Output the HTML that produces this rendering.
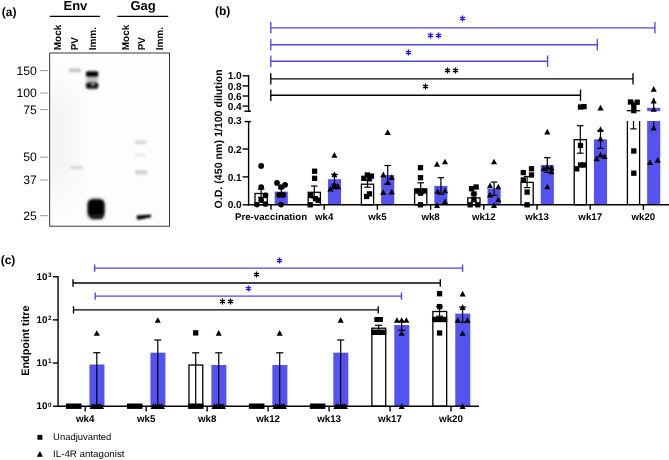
<!DOCTYPE html>
<html><head><meta charset="utf-8"><title>Figure</title>
<style>html,body{margin:0;padding:0;background:#fff;}svg{display:block;will-change:transform;}text{font-family:"Liberation Sans",sans-serif;text-rendering:geometricPrecision;}</style></head>
<body>
<svg width="669" height="460" viewBox="0 0 669 460">
<rect width="669" height="460" fill="#fff"/>
<text x="1.80" y="15.50" font-size="12" font-weight="bold" text-anchor="start" fill="#000" >(a)</text>
<text x="75.40" y="10.10" font-size="13" font-weight="bold" text-anchor="middle" fill="#000" >Env</text>
<text x="143.10" y="10.10" font-size="13" font-weight="bold" text-anchor="middle" fill="#000" >Gag</text>
<path d="M49.80 16.40L100.00 16.40" stroke="#000" stroke-width="1.3" fill="none"/>
<path d="M117.40 16.40L168.30 16.40" stroke="#000" stroke-width="1.3" fill="none"/>
<text transform="translate(61.3,50.3) rotate(-90)" font-size="10" font-weight="bold" text-anchor="start">Mock</text>
<text transform="translate(78.3,50.3) rotate(-90)" font-size="10" font-weight="bold" text-anchor="start">PV</text>
<text transform="translate(95.7,50.3) rotate(-90)" font-size="10" font-weight="bold" text-anchor="start">Imm.</text>
<text transform="translate(128.8,50.3) rotate(-90)" font-size="10" font-weight="bold" text-anchor="start">Mock</text>
<text transform="translate(145.2,50.3) rotate(-90)" font-size="10" font-weight="bold" text-anchor="start">PV</text>
<text transform="translate(163.2,50.3) rotate(-90)" font-size="10" font-weight="bold" text-anchor="start">Imm.</text>
<defs><filter id="b1" x="-50%" y="-50%" width="200%" height="200%"><feGaussianBlur stdDeviation="0.9"/></filter><filter id="b5" x="-50%" y="-80%" width="200%" height="260%"><feGaussianBlur stdDeviation="1.2"/></filter><filter id="b2" x="-50%" y="-50%" width="200%" height="200%"><feGaussianBlur stdDeviation="1.6"/></filter><filter id="b4" x="-50%" y="-50%" width="200%" height="200%"><feGaussianBlur stdDeviation="0.7"/></filter><filter id="b3" x="-50%" y="-50%" width="200%" height="200%"><feGaussianBlur stdDeviation="12"/></filter><clipPath id="blotclip"><rect x="49.7" y="53" width="119.8" height="173.2"/></clipPath></defs>
<g clip-path="url(#blotclip)">
<rect x="49.7" y="53" width="119.8" height="173.2" fill="#fdfdfd"/>
<ellipse cx="60" cy="140" rx="14" ry="60" fill="#f2f2f2" filter="url(#b3)"/>
<rect x="68.8" y="68.3" width="12.2" height="4" rx="1.5" fill="#c8c8c8" filter="url(#b1)"/>
<rect x="86.5" y="71" width="11.5" height="18" rx="2" fill="#c0c0c0" filter="url(#b2)"/>
<rect x="86.0" y="71.5" width="12.2" height="5.0" rx="1.5" fill="#000" filter="url(#b1)"/>
<rect x="86.0" y="82.8" width="12.2" height="5.8" rx="2" fill="#0a0a0a" filter="url(#b1)"/>
<ellipse cx="93.0" cy="84.4" rx="2.4" ry="1.0" fill="#ccc" filter="url(#b1)" transform="rotate(-20 93 84.4)"/>
<rect x="70.5" y="166.0" width="12.5" height="3.2" rx="1.2" fill="#d6d6d6" filter="url(#b5)"/>
<rect x="87.0" y="198.2" width="18" height="21.5" rx="6" fill="#8a8a8a" filter="url(#b2)"/>
<rect x="88.0" y="199.4" width="16.2" height="17.8" rx="5" fill="#000" filter="url(#b1)"/>
<rect x="90.5" y="214" width="12.5" height="4.6" rx="2" fill="#1c1c1c" filter="url(#b1)"/>
<rect x="134.5" y="140.4" width="12.5" height="3.8" rx="1.2" fill="#d8d8d8" filter="url(#b5)" transform="rotate(-4 140 142)"/>
<rect x="134.5" y="153.4" width="11.5" height="3.2" rx="1.2" fill="#ececec" filter="url(#b5)"/>
<rect x="135" y="169.9" width="12.5" height="4.8" rx="1.5" fill="#d4d4d4" filter="url(#b5)"/>
<path d="M136.8 215.4L150.8 214.6L151.2 217.2L138.6 219.8Q136.2 219.8 136.8 215.4Z" fill="#000" filter="url(#b1)"/>
</g>
<rect x="49.7" y="53" width="119.8" height="173.2" fill="none" stroke="#222" stroke-width="0.9"/>
<text x="36.80" y="74.60" font-size="12.2" font-weight="normal" text-anchor="end" fill="#000" >150</text>
<path d="M40.00 70.60L48.00 70.60" stroke="#999" stroke-width="1.0" fill="none"/>
<text x="36.80" y="97.00" font-size="12.2" font-weight="normal" text-anchor="end" fill="#000" >100</text>
<path d="M40.00 93.00L48.00 93.00" stroke="#999" stroke-width="1.0" fill="none"/>
<text x="36.80" y="113.70" font-size="12.2" font-weight="normal" text-anchor="end" fill="#000" >75</text>
<path d="M40.00 109.70L48.00 109.70" stroke="#999" stroke-width="1.0" fill="none"/>
<text x="36.80" y="161.20" font-size="12.2" font-weight="normal" text-anchor="end" fill="#000" >50</text>
<path d="M40.00 157.20L48.00 157.20" stroke="#999" stroke-width="1.0" fill="none"/>
<text x="36.80" y="184.00" font-size="12.2" font-weight="normal" text-anchor="end" fill="#000" >37</text>
<path d="M40.00 180.00L48.00 180.00" stroke="#999" stroke-width="1.0" fill="none"/>
<text x="36.80" y="219.70" font-size="12.2" font-weight="normal" text-anchor="end" fill="#000" >25</text>
<path d="M40.00 215.70L48.00 215.70" stroke="#999" stroke-width="1.0" fill="none"/>
<text x="215.00" y="14.70" font-size="12" font-weight="bold" text-anchor="start" fill="#000" >(b)</text>
<path d="M248.60 205.50L248.60 121.00" stroke="#000" stroke-width="1.4" fill="none"/>
<path d="M244.60 121.60L251.20 121.60" stroke="#000" stroke-width="1.4" fill="none"/>
<path d="M242.60 204.80L248.60 204.80" stroke="#000" stroke-width="1.4" fill="none"/>
<text x="241.70" y="208.40" font-size="10.1" font-weight="bold" text-anchor="end" fill="#000" >0.0</text>
<path d="M242.60 176.90L248.60 176.90" stroke="#000" stroke-width="1.4" fill="none"/>
<text x="241.70" y="180.50" font-size="10.1" font-weight="bold" text-anchor="end" fill="#000" >0.1</text>
<path d="M242.60 149.00L248.60 149.00" stroke="#000" stroke-width="1.4" fill="none"/>
<text x="241.70" y="152.60" font-size="10.1" font-weight="bold" text-anchor="end" fill="#000" >0.2</text>
<text x="241.70" y="124.30" font-size="10.1" font-weight="bold" text-anchor="end" fill="#000" >0.3</text>
<path d="M248.60 111.80L248.60 75.10" stroke="#000" stroke-width="1.4" fill="none"/>
<path d="M244.40 111.20L251.00 111.20" stroke="#000" stroke-width="1.4" fill="none"/>
<path d="M242.60 106.10L248.60 106.10" stroke="#000" stroke-width="1.4" fill="none"/>
<text x="241.70" y="109.70" font-size="10.1" font-weight="bold" text-anchor="end" fill="#000" >0.4</text>
<path d="M242.60 96.00L248.60 96.00" stroke="#000" stroke-width="1.4" fill="none"/>
<text x="241.70" y="99.60" font-size="10.1" font-weight="bold" text-anchor="end" fill="#000" >0.6</text>
<path d="M242.60 85.90L248.60 85.90" stroke="#000" stroke-width="1.4" fill="none"/>
<text x="241.70" y="89.50" font-size="10.1" font-weight="bold" text-anchor="end" fill="#000" >0.8</text>
<path d="M242.60 75.80L248.60 75.80" stroke="#000" stroke-width="1.4" fill="none"/>
<text x="241.70" y="79.40" font-size="10.1" font-weight="bold" text-anchor="end" fill="#000" >1.0</text>
<text transform="translate(221.7,138.85) rotate(-90)" font-size="10.64" font-weight="bold" text-anchor="middle">O.D. (450 nm) 1/100 dilution</text>
<rect x="255.00" y="193.50" width="12.2" height="11.30" fill="#fff" stroke="#000" stroke-width="1.3"/>
<rect x="274.75" y="191.60" width="13.1" height="13.20" fill="#5553f0"/>
<path d="M261.10 189.20L261.10 197.40" stroke="#000" stroke-width="1.2" fill="none"/>
<path d="M257.80 189.20L264.40 189.20" stroke="#000" stroke-width="1.2" fill="none"/>
<path d="M257.80 197.40L264.40 197.40" stroke="#000" stroke-width="1.2" fill="none"/>
<path d="M281.30 188.50L281.30 195.20" stroke="#000" stroke-width="1.2" fill="none"/>
<path d="M278.00 188.50L284.60 188.50" stroke="#000" stroke-width="1.2" fill="none"/>
<path d="M278.00 195.20L284.60 195.20" stroke="#000" stroke-width="1.2" fill="none"/>
<circle cx="261.20" cy="165.90" r="2.85" fill="#000"/>
<circle cx="261.20" cy="187.00" r="2.85" fill="#000"/>
<circle cx="265.50" cy="195.30" r="2.85" fill="#000"/>
<circle cx="261.20" cy="200.20" r="2.85" fill="#000"/>
<circle cx="256.80" cy="204.60" r="2.85" fill="#000"/>
<circle cx="265.50" cy="204.00" r="2.85" fill="#000"/>
<circle cx="277.00" cy="182.90" r="2.85" fill="#000"/>
<circle cx="285.10" cy="184.80" r="2.85" fill="#000"/>
<circle cx="281.00" cy="187.00" r="2.85" fill="#000"/>
<circle cx="279.10" cy="194.90" r="2.85" fill="#000"/>
<circle cx="283.20" cy="194.90" r="2.85" fill="#000"/>
<circle cx="281.00" cy="204.60" r="2.85" fill="#000"/>
<rect x="308.20" y="192.30" width="12.2" height="12.50" fill="#fff" stroke="#000" stroke-width="1.3"/>
<rect x="327.95" y="179.20" width="13.1" height="25.60" fill="#5553f0"/>
<path d="M314.30 186.00L314.30 198.00" stroke="#000" stroke-width="1.2" fill="none"/>
<path d="M311.00 186.00L317.60 186.00" stroke="#000" stroke-width="1.2" fill="none"/>
<path d="M311.00 198.00L317.60 198.00" stroke="#000" stroke-width="1.2" fill="none"/>
<path d="M334.50 174.30L334.50 184.30" stroke="#000" stroke-width="1.2" fill="none"/>
<path d="M331.20 174.30L337.80 174.30" stroke="#000" stroke-width="1.2" fill="none"/>
<path d="M331.20 184.30L337.80 184.30" stroke="#000" stroke-width="1.2" fill="none"/>
<rect x="311.95" y="168.55" width="5.3" height="5.3" fill="#000"/>
<rect x="311.95" y="175.65" width="5.3" height="5.3" fill="#000"/>
<rect x="308.05" y="192.75" width="5.3" height="5.3" fill="#000"/>
<rect x="312.85" y="196.05" width="5.3" height="5.3" fill="#000"/>
<rect x="315.55" y="197.65" width="5.3" height="5.3" fill="#000"/>
<rect x="307.55" y="202.15" width="5.3" height="5.3" fill="#000"/>
<path d="M334.40 151.95L337.45 157.65L331.35 157.65Z" fill="#000"/>
<path d="M334.40 171.45L337.45 177.15L331.35 177.15Z" fill="#000"/>
<path d="M330.40 185.85L333.45 191.55L327.35 191.55Z" fill="#000"/>
<path d="M334.40 183.65L337.45 189.35L331.35 189.35Z" fill="#000"/>
<path d="M338.20 183.65L341.25 189.35L335.15 189.35Z" fill="#000"/>
<path d="M334.40 181.65L337.45 187.35L331.35 187.35Z" fill="#000"/>
<rect x="361.40" y="184.20" width="12.2" height="20.60" fill="#fff" stroke="#000" stroke-width="1.3"/>
<rect x="381.15" y="175.00" width="13.1" height="29.80" fill="#5553f0"/>
<path d="M367.50 180.50L367.50 187.20" stroke="#000" stroke-width="1.2" fill="none"/>
<path d="M364.20 180.50L370.80 180.50" stroke="#000" stroke-width="1.2" fill="none"/>
<path d="M364.20 187.20L370.80 187.20" stroke="#000" stroke-width="1.2" fill="none"/>
<path d="M387.70 165.50L387.70 184.30" stroke="#000" stroke-width="1.2" fill="none"/>
<path d="M384.40 165.50L391.00 165.50" stroke="#000" stroke-width="1.2" fill="none"/>
<path d="M384.40 184.30L391.00 184.30" stroke="#000" stroke-width="1.2" fill="none"/>
<rect x="364.65" y="172.35" width="5.3" height="5.3" fill="#000"/>
<rect x="368.85" y="173.45" width="5.3" height="5.3" fill="#000"/>
<rect x="361.15" y="175.65" width="5.3" height="5.3" fill="#000"/>
<rect x="366.85" y="176.15" width="5.3" height="5.3" fill="#000"/>
<rect x="366.85" y="191.25" width="5.3" height="5.3" fill="#000"/>
<rect x="363.95" y="193.85" width="5.3" height="5.3" fill="#000"/>
<path d="M387.70 129.35L390.75 135.05L384.65 135.05Z" fill="#000"/>
<path d="M383.30 171.45L386.35 177.15L380.25 177.15Z" fill="#000"/>
<path d="M391.70 174.35L394.75 180.05L388.65 180.05Z" fill="#000"/>
<path d="M387.70 179.25L390.75 184.95L384.65 184.95Z" fill="#000"/>
<path d="M383.30 189.25L386.35 194.95L380.25 194.95Z" fill="#000"/>
<path d="M391.70 188.75L394.75 194.45L388.65 194.45Z" fill="#000"/>
<rect x="414.60" y="189.10" width="12.2" height="15.70" fill="#fff" stroke="#000" stroke-width="1.3"/>
<rect x="434.35" y="185.90" width="13.1" height="18.90" fill="#5553f0"/>
<path d="M420.70 182.80L420.70 193.60" stroke="#000" stroke-width="1.2" fill="none"/>
<path d="M417.40 182.80L424.00 182.80" stroke="#000" stroke-width="1.2" fill="none"/>
<path d="M417.40 193.60L424.00 193.60" stroke="#000" stroke-width="1.2" fill="none"/>
<path d="M440.90 177.70L440.90 194.30" stroke="#000" stroke-width="1.2" fill="none"/>
<path d="M437.60 177.70L444.20 177.70" stroke="#000" stroke-width="1.2" fill="none"/>
<path d="M437.60 194.30L444.20 194.30" stroke="#000" stroke-width="1.2" fill="none"/>
<rect x="417.85" y="165.05" width="5.3" height="5.3" fill="#000"/>
<rect x="417.85" y="175.05" width="5.3" height="5.3" fill="#000"/>
<rect x="415.05" y="188.35" width="5.3" height="5.3" fill="#000"/>
<rect x="421.65" y="188.35" width="5.3" height="5.3" fill="#000"/>
<rect x="417.85" y="190.55" width="5.3" height="5.3" fill="#000"/>
<rect x="417.85" y="202.15" width="5.3" height="5.3" fill="#000"/>
<path d="M437.00 161.05L440.05 166.75L433.95 166.75Z" fill="#000"/>
<path d="M445.00 158.65L448.05 164.35L441.95 164.35Z" fill="#000"/>
<path d="M437.60 188.15L440.65 193.85L434.55 193.85Z" fill="#000"/>
<path d="M445.00 187.65L448.05 193.35L441.95 193.35Z" fill="#000"/>
<path d="M445.00 198.55L448.05 204.25L441.95 204.25Z" fill="#000"/>
<path d="M437.00 202.35L440.05 208.05L433.95 208.05Z" fill="#000"/>
<rect x="467.80" y="197.90" width="12.2" height="6.90" fill="#fff" stroke="#000" stroke-width="1.3"/>
<rect x="487.55" y="188.70" width="13.1" height="16.10" fill="#5553f0"/>
<path d="M473.90 193.90L473.90 201.20" stroke="#000" stroke-width="1.2" fill="none"/>
<path d="M470.60 193.90L477.20 193.90" stroke="#000" stroke-width="1.2" fill="none"/>
<path d="M470.60 201.20L477.20 201.20" stroke="#000" stroke-width="1.2" fill="none"/>
<path d="M494.10 182.10L494.10 195.40" stroke="#000" stroke-width="1.2" fill="none"/>
<path d="M490.80 182.10L497.40 182.10" stroke="#000" stroke-width="1.2" fill="none"/>
<path d="M490.80 195.40L497.40 195.40" stroke="#000" stroke-width="1.2" fill="none"/>
<rect x="468.95" y="186.05" width="5.3" height="5.3" fill="#000"/>
<rect x="473.45" y="184.35" width="5.3" height="5.3" fill="#000"/>
<rect x="471.25" y="191.25" width="5.3" height="5.3" fill="#000"/>
<rect x="471.25" y="197.15" width="5.3" height="5.3" fill="#000"/>
<rect x="467.45" y="202.15" width="5.3" height="5.3" fill="#000"/>
<rect x="475.15" y="202.15" width="5.3" height="5.3" fill="#000"/>
<path d="M494.00 158.65L497.05 164.35L490.95 164.35Z" fill="#000"/>
<path d="M490.00 182.55L493.05 188.25L486.95 188.25Z" fill="#000"/>
<path d="M498.30 183.65L501.35 189.35L495.25 189.35Z" fill="#000"/>
<path d="M490.00 191.85L493.05 197.55L486.95 197.55Z" fill="#000"/>
<path d="M498.30 196.55L501.35 202.25L495.25 202.25Z" fill="#000"/>
<path d="M494.00 202.35L497.05 208.05L490.95 208.05Z" fill="#000"/>
<rect x="521.00" y="182.40" width="12.2" height="22.40" fill="#fff" stroke="#000" stroke-width="1.3"/>
<rect x="540.75" y="165.00" width="13.1" height="39.80" fill="#5553f0"/>
<path d="M527.10 176.50L527.10 187.60" stroke="#000" stroke-width="1.2" fill="none"/>
<path d="M523.80 176.50L530.40 176.50" stroke="#000" stroke-width="1.2" fill="none"/>
<path d="M523.80 187.60L530.40 187.60" stroke="#000" stroke-width="1.2" fill="none"/>
<path d="M547.30 157.70L547.30 172.40" stroke="#000" stroke-width="1.2" fill="none"/>
<path d="M544.00 157.70L550.60 157.70" stroke="#000" stroke-width="1.2" fill="none"/>
<path d="M544.00 172.40L550.60 172.40" stroke="#000" stroke-width="1.2" fill="none"/>
<rect x="528.85" y="166.15" width="5.3" height="5.3" fill="#000"/>
<rect x="520.65" y="169.95" width="5.3" height="5.3" fill="#000"/>
<rect x="528.85" y="172.35" width="5.3" height="5.3" fill="#000"/>
<rect x="520.65" y="177.25" width="5.3" height="5.3" fill="#000"/>
<rect x="524.45" y="189.45" width="5.3" height="5.3" fill="#000"/>
<rect x="524.45" y="202.15" width="5.3" height="5.3" fill="#000"/>
<path d="M547.30 128.85L550.35 134.55L544.25 134.55Z" fill="#000"/>
<path d="M543.70 165.45L546.75 171.15L540.65 171.15Z" fill="#000"/>
<path d="M547.30 163.75L550.35 169.45L544.25 169.45Z" fill="#000"/>
<path d="M551.50 164.85L554.55 170.55L548.45 170.55Z" fill="#000"/>
<path d="M551.50 168.55L554.55 174.25L548.45 174.25Z" fill="#000"/>
<path d="M547.30 183.65L550.35 189.35L544.25 189.35Z" fill="#000"/>
<rect x="574.20" y="139.70" width="12.2" height="65.10" fill="#fff" stroke="#000" stroke-width="1.3"/>
<rect x="593.95" y="139.40" width="13.1" height="65.40" fill="#5553f0"/>
<path d="M580.30 125.70L580.30 153.20" stroke="#000" stroke-width="1.2" fill="none"/>
<path d="M577.00 125.70L583.60 125.70" stroke="#000" stroke-width="1.2" fill="none"/>
<path d="M577.00 153.20L583.60 153.20" stroke="#000" stroke-width="1.2" fill="none"/>
<path d="M600.50 130.50L600.50 148.40" stroke="#000" stroke-width="1.2" fill="none"/>
<path d="M597.20 130.50L603.80 130.50" stroke="#000" stroke-width="1.2" fill="none"/>
<path d="M597.20 148.40L603.80 148.40" stroke="#000" stroke-width="1.2" fill="none"/>
<rect x="577.85" y="104.35" width="5.3" height="5.3" fill="#000"/>
<rect x="581.35" y="103.95" width="5.3" height="5.3" fill="#000"/>
<rect x="577.85" y="142.85" width="5.3" height="5.3" fill="#000"/>
<rect x="577.85" y="162.35" width="5.3" height="5.3" fill="#000"/>
<rect x="581.35" y="162.35" width="5.3" height="5.3" fill="#000"/>
<rect x="574.05" y="166.15" width="5.3" height="5.3" fill="#000"/>
<path d="M600.50 104.85L603.55 110.55L597.45 110.55Z" fill="#000"/>
<path d="M600.50 126.25L603.55 131.95L597.45 131.95Z" fill="#000"/>
<path d="M600.50 135.65L603.55 141.35L597.45 141.35Z" fill="#000"/>
<path d="M600.50 151.75L603.55 157.45L597.45 157.45Z" fill="#000"/>
<path d="M604.50 153.35L607.55 159.05L601.45 159.05Z" fill="#000"/>
<path d="M596.70 155.55L599.75 161.25L593.65 161.25Z" fill="#000"/>
<path d="M627.40 121.00L627.40 204.80" stroke="#000" stroke-width="1.3" fill="none"/>
<path d="M639.60 121.00L639.60 204.80" stroke="#000" stroke-width="1.3" fill="none"/>
<rect x="647.15" y="121" width="13.1" height="83.80" fill="#5553f0"/>
<path d="M626.80 110.70L640.20 110.70" stroke="#000" stroke-width="1.3" fill="none"/>
<rect x="647.15" y="107.8" width="13.1" height="3.4" fill="#5553f0"/>
<path d="M633.50 121.00L633.50 128.90" stroke="#000" stroke-width="1.2" fill="none"/>
<path d="M630.20 128.90L636.80 128.90" stroke="#000" stroke-width="1.2" fill="none"/>
<path d="M633.50 111.00L633.50 101.00" stroke="#000" stroke-width="1.2" fill="none"/>
<path d="M653.70 121.00L653.70 128.00" stroke="#000" stroke-width="1.2" fill="none"/>
<path d="M653.70 111.00L653.70 98.00" stroke="#000" stroke-width="1.2" fill="none"/>
<rect x="627.85" y="99.35" width="5.3" height="5.3" fill="#000"/>
<rect x="634.55" y="99.55" width="5.3" height="5.3" fill="#000"/>
<rect x="631.15" y="102.85" width="5.3" height="5.3" fill="#000"/>
<rect x="631.15" y="107.95" width="5.3" height="5.3" fill="#000"/>
<rect x="631.15" y="148.35" width="5.3" height="5.3" fill="#000"/>
<rect x="631.15" y="170.55" width="5.3" height="5.3" fill="#000"/>
<path d="M653.70 85.95L656.75 91.65L650.65 91.65Z" fill="#000"/>
<path d="M653.70 97.75L656.75 103.45L650.65 103.45Z" fill="#000"/>
<path d="M653.70 106.15L656.75 111.85L650.65 111.85Z" fill="#000"/>
<path d="M653.70 124.75L656.75 130.45L650.65 130.45Z" fill="#000"/>
<path d="M650.00 159.25L653.05 164.95L646.95 164.95Z" fill="#000"/>
<path d="M657.70 157.05L660.75 162.75L654.65 162.75Z" fill="#000"/>
<path d="M247.90 204.80L669.00 204.80" stroke="#000" stroke-width="1.4" fill="none"/>
<path d="M271.00 204.80L271.00 209.80" stroke="#000" stroke-width="1.4" fill="none"/>
<text x="271.00" y="220.40" font-size="9.7" font-weight="bold" text-anchor="middle" fill="#000" >Pre-vaccination</text>
<path d="M324.20 204.80L324.20 209.80" stroke="#000" stroke-width="1.4" fill="none"/>
<text x="324.20" y="220.40" font-size="9.7" font-weight="bold" text-anchor="middle" fill="#000" >wk4</text>
<path d="M377.40 204.80L377.40 209.80" stroke="#000" stroke-width="1.4" fill="none"/>
<text x="377.40" y="220.40" font-size="9.7" font-weight="bold" text-anchor="middle" fill="#000" >wk5</text>
<path d="M430.60 204.80L430.60 209.80" stroke="#000" stroke-width="1.4" fill="none"/>
<text x="430.60" y="220.40" font-size="9.7" font-weight="bold" text-anchor="middle" fill="#000" >wk8</text>
<path d="M483.80 204.80L483.80 209.80" stroke="#000" stroke-width="1.4" fill="none"/>
<text x="483.80" y="220.40" font-size="9.7" font-weight="bold" text-anchor="middle" fill="#000" >wk12</text>
<path d="M537.00 204.80L537.00 209.80" stroke="#000" stroke-width="1.4" fill="none"/>
<text x="537.00" y="220.40" font-size="9.7" font-weight="bold" text-anchor="middle" fill="#000" >wk13</text>
<path d="M590.20 204.80L590.20 209.80" stroke="#000" stroke-width="1.4" fill="none"/>
<text x="590.20" y="220.40" font-size="9.7" font-weight="bold" text-anchor="middle" fill="#000" >wk17</text>
<path d="M643.40 204.80L643.40 209.80" stroke="#000" stroke-width="1.4" fill="none"/>
<text x="643.40" y="220.40" font-size="9.7" font-weight="bold" text-anchor="middle" fill="#000" >wk20</text>
<path d="M270.80 27.80L654.90 27.80" stroke="#4a48f5" stroke-width="1.35" fill="none"/>
<path d="M270.80 22.10L270.80 33.50" stroke="#4a48f5" stroke-width="1.35" fill="none"/>
<path d="M654.90 22.10L654.90 33.50" stroke="#4a48f5" stroke-width="1.35" fill="none"/>
<path d="M270.80 44.70L597.30 44.70" stroke="#4a48f5" stroke-width="1.35" fill="none"/>
<path d="M270.80 39.00L270.80 50.40" stroke="#4a48f5" stroke-width="1.35" fill="none"/>
<path d="M597.30 39.00L597.30 50.40" stroke="#4a48f5" stroke-width="1.35" fill="none"/>
<path d="M270.80 61.20L547.60 61.20" stroke="#4a48f5" stroke-width="1.35" fill="none"/>
<path d="M270.80 55.50L270.80 66.90" stroke="#4a48f5" stroke-width="1.35" fill="none"/>
<path d="M547.60 55.50L547.60 66.90" stroke="#4a48f5" stroke-width="1.35" fill="none"/>
<path d="M270.80 78.90L633.00 78.90" stroke="#000" stroke-width="1.35" fill="none"/>
<path d="M270.80 73.20L270.80 84.60" stroke="#000" stroke-width="1.35" fill="none"/>
<path d="M633.00 73.20L633.00 84.60" stroke="#000" stroke-width="1.35" fill="none"/>
<path d="M270.80 95.20L580.50 95.20" stroke="#000" stroke-width="1.35" fill="none"/>
<path d="M270.80 89.50L270.80 100.90" stroke="#000" stroke-width="1.35" fill="none"/>
<path d="M580.50 89.50L580.50 100.90" stroke="#000" stroke-width="1.35" fill="none"/>
<path d="M462.50 15.55L462.50 21.45M465.05 17.02L459.95 19.98M465.05 19.97L459.95 17.03" stroke="#1a14ff" stroke-width="1.35" fill="none" stroke-linecap="butt"/>
<path d="M430.50 32.55L430.50 38.45M433.05 34.02L427.95 36.98M433.05 36.98L427.95 34.02" stroke="#1a14ff" stroke-width="1.35" fill="none" stroke-linecap="butt"/>
<path d="M438.50 32.55L438.50 38.45M441.05 34.02L435.95 36.98M441.05 36.98L435.95 34.02" stroke="#1a14ff" stroke-width="1.35" fill="none" stroke-linecap="butt"/>
<path d="M408.50 49.55L408.50 55.45M411.05 51.02L405.95 53.98M411.05 53.98L405.95 51.02" stroke="#1a14ff" stroke-width="1.35" fill="none" stroke-linecap="butt"/>
<path d="M447.50 67.55L447.50 73.45M450.05 69.03L444.95 71.97M450.05 71.97L444.95 69.03" stroke="#000" stroke-width="1.35" fill="none" stroke-linecap="butt"/>
<path d="M455.50 67.55L455.50 73.45M458.05 69.03L452.95 71.97M458.05 71.97L452.95 69.03" stroke="#000" stroke-width="1.35" fill="none" stroke-linecap="butt"/>
<path d="M425.50 83.55L425.50 89.45M428.05 85.03L422.95 87.97M428.05 87.97L422.95 85.03" stroke="#000" stroke-width="1.35" fill="none" stroke-linecap="butt"/>
<text x="0.70" y="263.70" font-size="12" font-weight="bold" text-anchor="start" fill="#000" >(c)</text>
<path d="M58.05 406.90L58.05 276.05" stroke="#000" stroke-width="1.4" fill="none"/>
<path d="M52.85 406.20L58.05 406.20" stroke="#000" stroke-width="1.4" fill="none"/>
<text x="47.35" y="409.40" font-size="9.8" font-weight="bold" text-anchor="end">10</text>
<text x="51.65" y="406.50" font-size="6.4" font-weight="bold" text-anchor="end">0</text>
<path d="M52.85 363.05L58.05 363.05" stroke="#000" stroke-width="1.4" fill="none"/>
<text x="47.35" y="366.25" font-size="9.8" font-weight="bold" text-anchor="end">10</text>
<text x="51.65" y="363.35" font-size="6.4" font-weight="bold" text-anchor="end">1</text>
<path d="M52.85 319.90L58.05 319.90" stroke="#000" stroke-width="1.4" fill="none"/>
<text x="47.35" y="323.10" font-size="9.8" font-weight="bold" text-anchor="end">10</text>
<text x="51.65" y="320.20" font-size="6.4" font-weight="bold" text-anchor="end">2</text>
<path d="M52.85 276.75L58.05 276.75" stroke="#000" stroke-width="1.4" fill="none"/>
<text x="47.35" y="279.95" font-size="9.8" font-weight="bold" text-anchor="end">10</text>
<text x="51.65" y="277.05" font-size="6.4" font-weight="bold" text-anchor="end">3</text>
<text transform="translate(28.5,340.6) rotate(-90)" font-size="10.8" font-weight="bold" text-anchor="middle">Endpoint titre</text>
<rect x="65.95" y="403.50" width="15.6" height="5.4" fill="#000"/>
<rect x="89.45" y="364.50" width="15.0" height="41.70" fill="#5553f0"/>
<path d="M96.80 352.70L96.80 406.20" stroke="#000" stroke-width="1.2" fill="none"/>
<path d="M93.20 352.70L100.40 352.70" stroke="#000" stroke-width="1.2" fill="none"/>
<path d="M92.60 403.35L95.65 409.05L89.55 409.05Z" fill="#000"/>
<path d="M94.70 403.35L97.75 409.05L91.65 409.05Z" fill="#000"/>
<path d="M96.80 403.35L99.85 409.05L93.75 409.05Z" fill="#000"/>
<path d="M98.90 403.35L101.95 409.05L95.85 409.05Z" fill="#000"/>
<path d="M101.00 403.35L104.05 409.05L97.95 409.05Z" fill="#000"/>
<path d="M96.80 330.15L99.85 335.85L93.75 335.85Z" fill="#000"/>
<rect x="126.92" y="403.50" width="15.6" height="5.4" fill="#000"/>
<rect x="150.42" y="352.70" width="15.0" height="53.50" fill="#5553f0"/>
<path d="M157.77 340.00L157.77 406.20" stroke="#000" stroke-width="1.2" fill="none"/>
<path d="M154.17 340.00L161.37 340.00" stroke="#000" stroke-width="1.2" fill="none"/>
<path d="M153.57 403.35L156.62 409.05L150.52 409.05Z" fill="#000"/>
<path d="M155.67 403.35L158.72 409.05L152.62 409.05Z" fill="#000"/>
<path d="M157.77 403.35L160.82 409.05L154.72 409.05Z" fill="#000"/>
<path d="M159.87 403.35L162.92 409.05L156.82 409.05Z" fill="#000"/>
<path d="M161.97 403.35L165.02 409.05L158.92 409.05Z" fill="#000"/>
<path d="M157.77 317.15L160.82 322.85L154.72 322.85Z" fill="#000"/>
<rect x="188.99" y="365.00" width="13.799999999999999" height="41.20" fill="#fff" stroke="#000" stroke-width="1.3"/>
<path d="M195.69 352.80L195.69 406.20" stroke="#000" stroke-width="1.2" fill="none"/>
<path d="M192.09 352.80L199.29 352.80" stroke="#000" stroke-width="1.2" fill="none"/>
<rect x="187.89" y="403.50" width="15.6" height="5.4" fill="#000"/>
<rect x="193.04" y="330.25" width="5.3" height="5.3" fill="#000"/>
<rect x="211.39" y="365.00" width="15.0" height="41.20" fill="#5553f0"/>
<path d="M218.74 352.80L218.74 406.20" stroke="#000" stroke-width="1.2" fill="none"/>
<path d="M215.14 352.80L222.34 352.80" stroke="#000" stroke-width="1.2" fill="none"/>
<path d="M214.54 403.35L217.59 409.05L211.49 409.05Z" fill="#000"/>
<path d="M216.64 403.35L219.69 409.05L213.59 409.05Z" fill="#000"/>
<path d="M218.74 403.35L221.79 409.05L215.69 409.05Z" fill="#000"/>
<path d="M220.84 403.35L223.89 409.05L217.79 409.05Z" fill="#000"/>
<path d="M222.94 403.35L225.99 409.05L219.89 409.05Z" fill="#000"/>
<path d="M218.74 330.05L221.79 335.75L215.69 335.75Z" fill="#000"/>
<rect x="248.86" y="403.50" width="15.6" height="5.4" fill="#000"/>
<rect x="272.36" y="365.00" width="15.0" height="41.20" fill="#5553f0"/>
<path d="M279.71 352.80L279.71 406.20" stroke="#000" stroke-width="1.2" fill="none"/>
<path d="M276.11 352.80L283.31 352.80" stroke="#000" stroke-width="1.2" fill="none"/>
<path d="M275.51 403.35L278.56 409.05L272.46 409.05Z" fill="#000"/>
<path d="M277.61 403.35L280.66 409.05L274.56 409.05Z" fill="#000"/>
<path d="M279.71 403.35L282.76 409.05L276.66 409.05Z" fill="#000"/>
<path d="M281.81 403.35L284.86 409.05L278.76 409.05Z" fill="#000"/>
<path d="M283.91 403.35L286.96 409.05L280.86 409.05Z" fill="#000"/>
<path d="M279.71 330.05L282.76 335.75L276.66 335.75Z" fill="#000"/>
<rect x="309.83" y="403.50" width="15.6" height="5.4" fill="#000"/>
<rect x="333.33" y="352.70" width="15.0" height="53.50" fill="#5553f0"/>
<path d="M340.68 340.00L340.68 406.20" stroke="#000" stroke-width="1.2" fill="none"/>
<path d="M337.08 340.00L344.28 340.00" stroke="#000" stroke-width="1.2" fill="none"/>
<path d="M336.48 403.35L339.53 409.05L333.43 409.05Z" fill="#000"/>
<path d="M338.58 403.35L341.63 409.05L335.53 409.05Z" fill="#000"/>
<path d="M340.68 403.35L343.73 409.05L337.63 409.05Z" fill="#000"/>
<path d="M342.78 403.35L345.83 409.05L339.73 409.05Z" fill="#000"/>
<path d="M344.88 403.35L347.93 409.05L341.83 409.05Z" fill="#000"/>
<path d="M340.68 316.95L343.73 322.65L337.63 322.65Z" fill="#000"/>
<rect x="371.90" y="328.20" width="13.799999999999999" height="78.00" fill="#fff" stroke="#000" stroke-width="1.3"/>
<path d="M378.60 325.30L378.60 331.50" stroke="#000" stroke-width="1.2" fill="none"/>
<path d="M375.00 325.30L382.20 325.30" stroke="#000" stroke-width="1.2" fill="none"/>
<path d="M375.00 331.50L382.20 331.50" stroke="#000" stroke-width="1.2" fill="none"/>
<rect x="374.30" y="317" width="8.6" height="5" fill="#000"/>
<rect x="371.00" y="329.6" width="15.2" height="5.4" fill="#000"/>
<rect x="394.30" y="325.00" width="15.0" height="81.20" fill="#5553f0"/>
<path d="M401.65 321.40L401.65 330.30" stroke="#000" stroke-width="1.2" fill="none"/>
<path d="M398.05 321.40L405.25 321.40" stroke="#000" stroke-width="1.2" fill="none"/>
<path d="M398.05 330.30L405.25 330.30" stroke="#000" stroke-width="1.2" fill="none"/>
<path d="M396.95 317.15L400.00 322.85L393.90 322.85Z" fill="#000"/>
<path d="M401.65 317.15L404.70 322.85L398.60 322.85Z" fill="#000"/>
<path d="M406.35 317.15L409.40 322.85L403.30 322.85Z" fill="#000"/>
<path d="M401.65 330.15L404.70 335.85L398.60 335.85Z" fill="#000"/>
<path d="M401.65 403.35L404.70 409.05L398.60 409.05Z" fill="#000"/>
<rect x="432.87" y="311.50" width="13.799999999999999" height="94.70" fill="#fff" stroke="#000" stroke-width="1.3"/>
<path d="M439.57 306.60L439.57 316.20" stroke="#000" stroke-width="1.2" fill="none"/>
<path d="M435.97 306.60L443.17 306.60" stroke="#000" stroke-width="1.2" fill="none"/>
<path d="M435.97 316.20L443.17 316.20" stroke="#000" stroke-width="1.2" fill="none"/>
<rect x="436.92" y="291.05" width="5.3" height="5.3" fill="#000"/>
<rect x="436.92" y="303.95" width="5.3" height="5.3" fill="#000"/>
<rect x="431.97" y="316.8" width="15.2" height="5.4" fill="#000"/>
<rect x="436.92" y="330.35" width="5.3" height="5.3" fill="#000"/>
<rect x="455.27" y="313.60" width="15.0" height="92.60" fill="#5553f0"/>
<path d="M462.62 307.10L462.62 322.20" stroke="#000" stroke-width="1.2" fill="none"/>
<path d="M459.02 307.10L466.22 307.10" stroke="#000" stroke-width="1.2" fill="none"/>
<path d="M459.02 322.20L466.22 322.20" stroke="#000" stroke-width="1.2" fill="none"/>
<path d="M462.62 290.85L465.67 296.55L459.57 296.55Z" fill="#000"/>
<path d="M462.62 304.25L465.67 309.95L459.57 309.95Z" fill="#000"/>
<path d="M457.72 317.05L460.77 322.75L454.67 322.75Z" fill="#000"/>
<path d="M467.52 317.05L470.57 322.75L464.47 322.75Z" fill="#000"/>
<path d="M462.62 330.15L465.67 335.85L459.57 335.85Z" fill="#000"/>
<path d="M462.62 403.35L465.67 409.05L459.57 409.05Z" fill="#000"/>
<path d="M57.35 406.20L479.00 406.20" stroke="#000" stroke-width="1.4" fill="none"/>
<path d="M85.20 406.20L85.20 411.40" stroke="#000" stroke-width="1.4" fill="none"/>
<text x="85.20" y="421.60" font-size="9.75" font-weight="bold" text-anchor="middle" fill="#000" >wk4</text>
<path d="M146.17 406.20L146.17 411.40" stroke="#000" stroke-width="1.4" fill="none"/>
<text x="146.17" y="421.60" font-size="9.75" font-weight="bold" text-anchor="middle" fill="#000" >wk5</text>
<path d="M207.14 406.20L207.14 411.40" stroke="#000" stroke-width="1.4" fill="none"/>
<text x="207.14" y="421.60" font-size="9.75" font-weight="bold" text-anchor="middle" fill="#000" >wk8</text>
<path d="M268.11 406.20L268.11 411.40" stroke="#000" stroke-width="1.4" fill="none"/>
<text x="268.11" y="421.60" font-size="9.75" font-weight="bold" text-anchor="middle" fill="#000" >wk12</text>
<path d="M329.08 406.20L329.08 411.40" stroke="#000" stroke-width="1.4" fill="none"/>
<text x="329.08" y="421.60" font-size="9.75" font-weight="bold" text-anchor="middle" fill="#000" >wk13</text>
<path d="M390.05 406.20L390.05 411.40" stroke="#000" stroke-width="1.4" fill="none"/>
<text x="390.05" y="421.60" font-size="9.75" font-weight="bold" text-anchor="middle" fill="#000" >wk17</text>
<path d="M451.02 406.20L451.02 411.40" stroke="#000" stroke-width="1.4" fill="none"/>
<text x="451.02" y="421.60" font-size="9.75" font-weight="bold" text-anchor="middle" fill="#000" >wk20</text>
<path d="M94.60 268.15L462.60 268.15" stroke="#4a48f5" stroke-width="1.35" fill="none"/>
<path d="M94.60 264.45L94.60 271.85" stroke="#4a48f5" stroke-width="1.35" fill="none"/>
<path d="M462.60 264.45L462.60 271.85" stroke="#4a48f5" stroke-width="1.35" fill="none"/>
<path d="M73.00 282.95L440.30 282.95" stroke="#000" stroke-width="1.35" fill="none"/>
<path d="M73.00 279.25L73.00 286.65" stroke="#000" stroke-width="1.35" fill="none"/>
<path d="M440.30 279.25L440.30 286.65" stroke="#000" stroke-width="1.35" fill="none"/>
<path d="M95.20 296.15L401.50 296.15" stroke="#4a48f5" stroke-width="1.35" fill="none"/>
<path d="M95.20 292.45L95.20 299.85" stroke="#4a48f5" stroke-width="1.35" fill="none"/>
<path d="M401.50 292.45L401.50 299.85" stroke="#4a48f5" stroke-width="1.35" fill="none"/>
<path d="M73.50 309.85L378.20 309.85" stroke="#000" stroke-width="1.35" fill="none"/>
<path d="M73.50 306.15L73.50 313.55" stroke="#000" stroke-width="1.35" fill="none"/>
<path d="M378.20 306.15L378.20 313.55" stroke="#000" stroke-width="1.35" fill="none"/>
<path d="M279.50 257.55L279.50 263.45M282.05 259.02L276.95 261.98M282.05 261.98L276.95 259.02" stroke="#1a14ff" stroke-width="1.35" fill="none" stroke-linecap="butt"/>
<path d="M256.50 271.55L256.50 277.45M259.05 273.02L253.95 275.98M259.05 275.98L253.95 273.02" stroke="#000" stroke-width="1.35" fill="none" stroke-linecap="butt"/>
<path d="M248.50 285.55L248.50 291.45M251.05 287.02L245.95 289.98M251.05 289.98L245.95 287.02" stroke="#1a14ff" stroke-width="1.35" fill="none" stroke-linecap="butt"/>
<path d="M222.50 298.55L222.50 304.45M225.05 300.02L219.95 302.98M225.05 302.98L219.95 300.02" stroke="#000" stroke-width="1.35" fill="none" stroke-linecap="butt"/>
<path d="M230.50 298.55L230.50 304.45M233.05 300.02L227.95 302.98M233.05 302.98L227.95 300.02" stroke="#000" stroke-width="1.35" fill="none" stroke-linecap="butt"/>
<rect x="37.45" y="434.85" width="4.9" height="4.9" fill="#000"/>
<text x="53.10" y="440.10" font-size="9.45" font-weight="normal" text-anchor="start" fill="#000" >Unadjuvanted</text>
<path d="M39.90 450.95L42.95 456.65L36.85 456.65Z" fill="#000"/>
<text x="53.10" y="456.70" font-size="9.45" font-weight="normal" text-anchor="start" fill="#000" textLength="71.4" lengthAdjust="spacingAndGlyphs">IL-4R antagonist</text>
</svg>
</body></html>
